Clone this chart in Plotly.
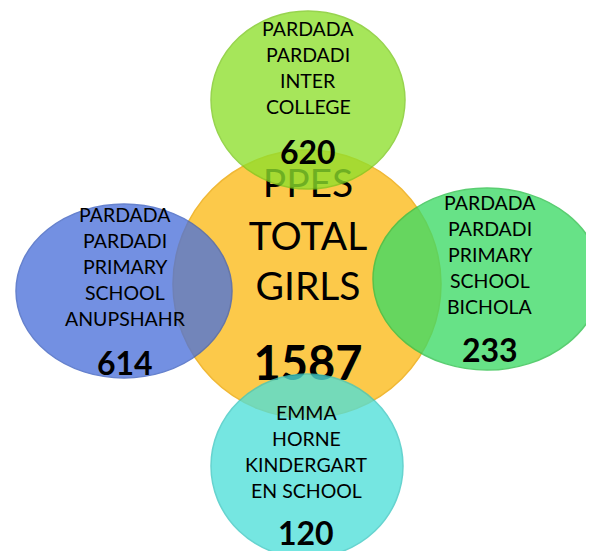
import plotly.graph_objects as go

# ---- data ----
center_title = ["PPES", "TOTAL", "GIRLS"]
center_total = 1587
school_names = [
    ["PARDADA", "PARDADI", "INTER", "COLLEGE"],
    ["PARDADA", "PARDADI", "PRIMARY", "SCHOOL", "ANUPSHAHR"],
    ["PARDADA", "PARDADI", "PRIMARY", "SCHOOL", "BICHOLA"],
    ["EMMA", "HORNE", "KINDERGART", "EN SCHOOL"],
]
school_girls = [620, 614, 233, 120]

# ---- layout (pixel space, y down) ----
W, H = 594, 551
center_circle = dict(cx=299, cy=276, rx=134, ry=134, color="#FCC94A", edge="#F0B836")
sat_circles = [
    dict(cx=300, cy=92, rx=97, ry=89, color="#8EE02C", edge="#7BC81E"),   # top
    dict(cx=116, cy=283, rx=108, ry=87, color="#4C72DA", edge="#3C5FC0"), # left
    dict(cx=479, cy=271, rx=114, ry=91, color="#3DDA66", edge="#2CC04A"), # right
    dict(cx=299, cy=458, rx=96, ry=92, color="#4FDFD9", edge="#3CC8C2"),  # bottom
]
# visual cap-centre positions of each label line
label_pos = [
    dict(x=300, y0=29, dy=26.3, ny=152),
    dict(x=117, y0=215, dy=26.2, ny=363),
    dict(x=482, y0=203, dy=26.0, ny=350),
    dict(x=298, y0=413, dy=26.3, ny=533),
]
center_text_pos = dict(x=300, ys=[184, 237, 287], ny=365)
ANN_SHIFT = -9     # annotation box centre vs. visual cap centre
TRACE_SHIFT = -5

FONT = "Lato, Carlito, 'Open Sans', sans-serif"

fig = go.Figure()

shapes = []
c = center_circle
shapes.append(dict(type="circle", xref="x", yref="y",
                   x0=c["cx"] - c["rx"], x1=c["cx"] + c["rx"],
                   y0=c["cy"] - c["ry"], y1=c["cy"] + c["ry"],
                   fillcolor=c["color"], line=dict(color=c["edge"], width=1.5),
                   layer="below"))

# center text as a trace so satellite circles can overlap it
fig.add_trace(go.Scatter(
    x=[center_text_pos["x"]] * len(center_title),
    y=[y + TRACE_SHIFT for y in center_text_pos["ys"]],
    text=center_title, mode="text",
    textfont=dict(family=FONT, size=39, color="black"),
    hoverinfo="skip", showlegend=False))
fig.add_trace(go.Scatter(
    x=[center_text_pos["x"]], y=[center_text_pos["ny"] + TRACE_SHIFT],
    text=[f"<b>{center_total}</b>"], mode="text",
    textfont=dict(family=FONT, size=47, color="black"),
    hoverinfo="skip", showlegend=False))

for s in sat_circles:
    shapes.append(dict(type="circle", xref="x", yref="y",
                       x0=s["cx"] - s["rx"], x1=s["cx"] + s["rx"],
                       y0=s["cy"] - s["ry"], y1=s["cy"] + s["ry"],
                       fillcolor=s["color"], opacity=0.78,
                       line=dict(color=s["edge"], width=1.5),
                       layer="above"))

annotations = []
for names, val, p in zip(school_names, school_girls, label_pos):
    for i, n in enumerate(names):
        annotations.append(dict(x=p["x"], y=p["y0"] + i * p["dy"] + ANN_SHIFT, text=n,
                                showarrow=False, xref="x", yref="y",
                                font=dict(family=FONT, size=19.5, color="black")))
    annotations.append(dict(x=p["x"], y=p["ny"] + ANN_SHIFT, text=f"<b>{val}</b>",
                            showarrow=False, xref="x", yref="y",
                            font=dict(family=FONT, size=32, color="black")))

fig.update_layout(
    width=W, height=H,
    margin=dict(l=0, r=0, t=0, b=0),
    paper_bgcolor="white", plot_bgcolor="white",
    shapes=shapes, annotations=annotations,
    xaxis=dict(range=[0, W], visible=False, fixedrange=True),
    yaxis=dict(range=[H, 0], visible=False, fixedrange=True),
    showlegend=False,
)

fig.write_html("out.html", config={"displayModeBar": False})
